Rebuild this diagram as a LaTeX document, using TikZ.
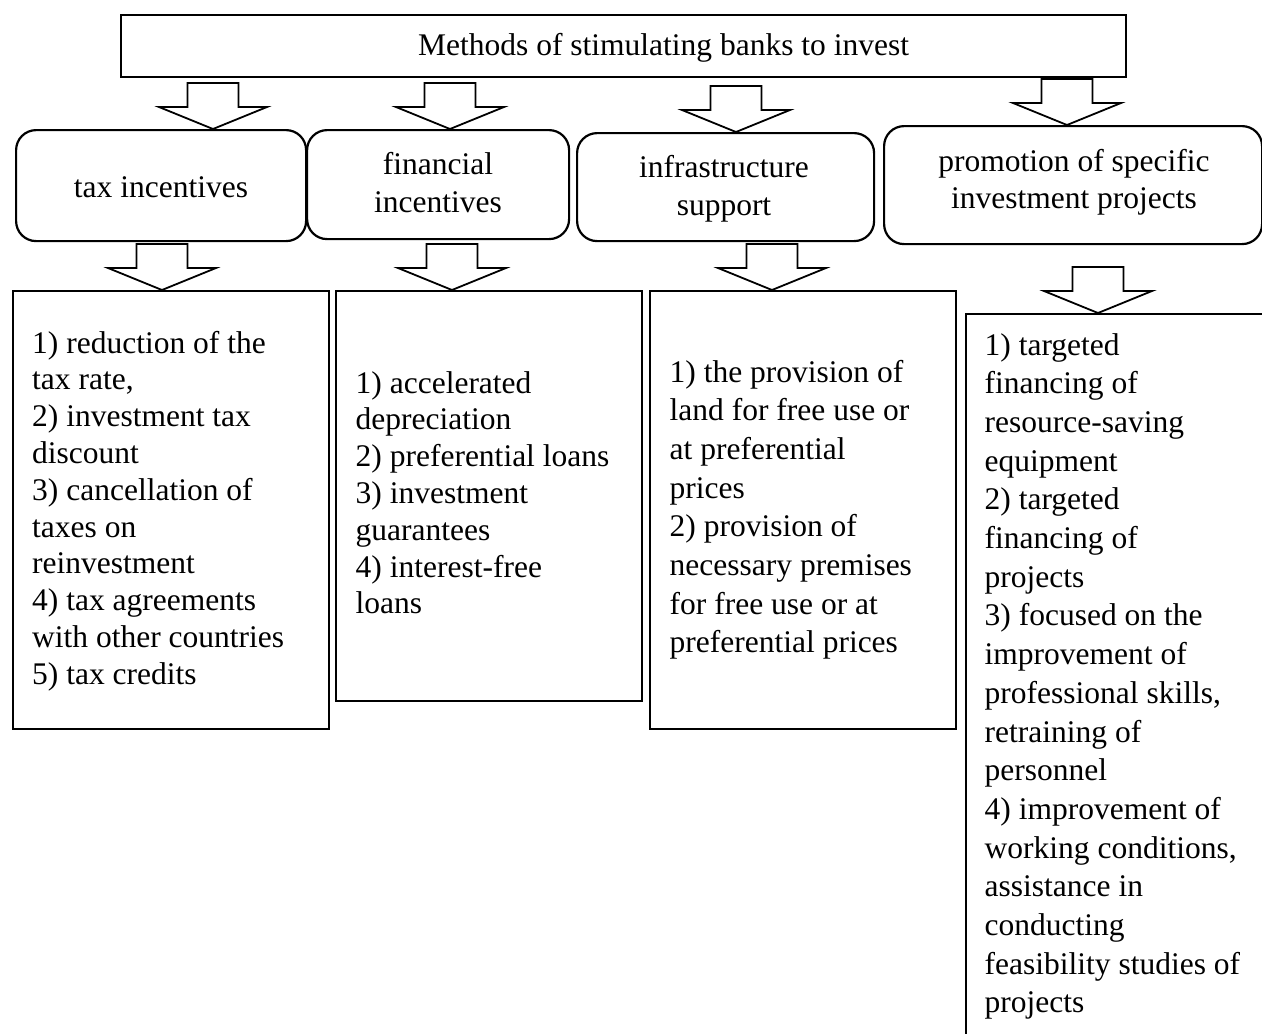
\documentclass[tikz,border=0pt]{standalone}
\usepackage{fontspec}
\setmainfont{Liberation Serif}
\begin{document}
\begin{tikzpicture}[x=1pt,y=-1pt,
  frame/.style={draw, line width=2.2pt, inner sep=0pt, anchor=north west, fill=white},
  rbox/.style={frame, rounded corners=20pt},
  arrowline/.style={draw, line width=1.8pt, fill=white, line join=miter},
  boxtext/.style={inner sep=0pt, anchor=base, font=\fontsize{31.5}{38.5}\selectfont},
  listtext/.style={inner sep=0pt, anchor=base west},
  tightlist/.style={listtext, font=\fontsize{31.5}{36.8}\selectfont},
  looselist/.style={listtext, font=\fontsize{31.5}{38.7}\selectfont},
  blockarrow/.pic={\path[arrowline] (0,0) -- (-54,-22) -- (-25.5,-22) -- (-25.5,-46)
                     -- (25.5,-46) -- (25.5,-22) -- (54,-22) -- cycle;}
]
\useasboundingbox (0,0) rectangle (1262,1034);
\clip (0,0) rectangle (1262,1034);

% heading
\node[frame, minimum width=1005pt, minimum height=62pt] (top) at (120,14) {};
\node[tightlist] (toptext) at (418,55) {Methods of stimulating banks to invest};

% the four groups of methods
\node[rbox, minimum width=290pt, minimum height=111pt] (r1) at (15,129) {};
\node[rbox, minimum width=262pt, minimum height=109pt] (r2) at (306,129) {};
\node[rbox, minimum width=297pt, minimum height=108pt] (r3) at (576,132) {};
\node[rbox, minimum width=378pt, minimum height=118pt] (r4) at (883,125) {};

\node[boxtext] (l1) at (161,197) {tax incentives};
\node[boxtext] (l2) at (438,174) {\parbox[t]{250pt}{\centering financial\\incentives}};
\node[boxtext] (l3) at (724,177) {\parbox[t]{280pt}{\centering infrastructure\\support}};
\node[boxtext, font=\fontsize{31.5}{37.7}\selectfont] (l4) at (1074,171)
  {\parbox[t]{360pt}{\centering promotion of specific\\investment projects}};

% lists of measures
\node[frame, minimum width=316pt, minimum height=438pt] (b1) at (12,290) {};
\node[frame, minimum width=306pt, minimum height=410pt] (b2) at (335,290) {};
\node[frame, minimum width=306pt, minimum height=438pt] (b3) at (649,290) {};
\node[frame, minimum width=360pt, minimum height=800pt] (b4) at (965,313) {};

\node[tightlist] (t1) at (32,353) {\parbox[t]{320pt}{\raggedright
1) reduction of the\\
tax rate,\\
2) investment tax\\
discount\\
3) cancellation of\\
taxes on\\
reinvestment\\
4) tax agreements\\
with other countries\\
5) tax credits}};

\node[tightlist] (t2) at (355.5,393) {\parbox[t]{320pt}{\raggedright
1) accelerated\\
depreciation\\
2) preferential loans\\
3) investment\\
guarantees\\
4) interest-free\\
loans}};

\node[looselist] (t3) at (669.5,382) {\parbox[t]{320pt}{\raggedright
1) the provision of\\
land for free use or\\
at preferential\\
prices\\
2) provision of\\
necessary premises\\
for free use or at\\
preferential prices}};

\node[looselist] (t4) at (984.5,355) {\parbox[t]{320pt}{\raggedright
1) targeted\\
financing of\\
resource-saving\\
equipment\\
2) targeted\\
financing of\\
projects\\
3) focused on the\\
improvement of\\
professional skills,\\
retraining of\\
personnel\\
4) improvement of\\
working conditions,\\
assistance in\\
conducting\\
feasibility studies of\\
projects}};

% block arrows from the heading to the groups
\pic at (213,0 |- r1.north) {blockarrow};
\pic at (450,0 |- r2.north) {blockarrow};
\pic at (736,0 |- r3.north) {blockarrow};
\pic at (1067,0 |- r4.north) {blockarrow};

% block arrows from the groups to their lists
\pic at (162,0 |- b1.north) {blockarrow};
\pic at (452,0 |- b2.north) {blockarrow};
\pic at (772,0 |- b3.north) {blockarrow};
\pic at (1098,0 |- b4.north) {blockarrow};
\end{tikzpicture}
\end{document}
